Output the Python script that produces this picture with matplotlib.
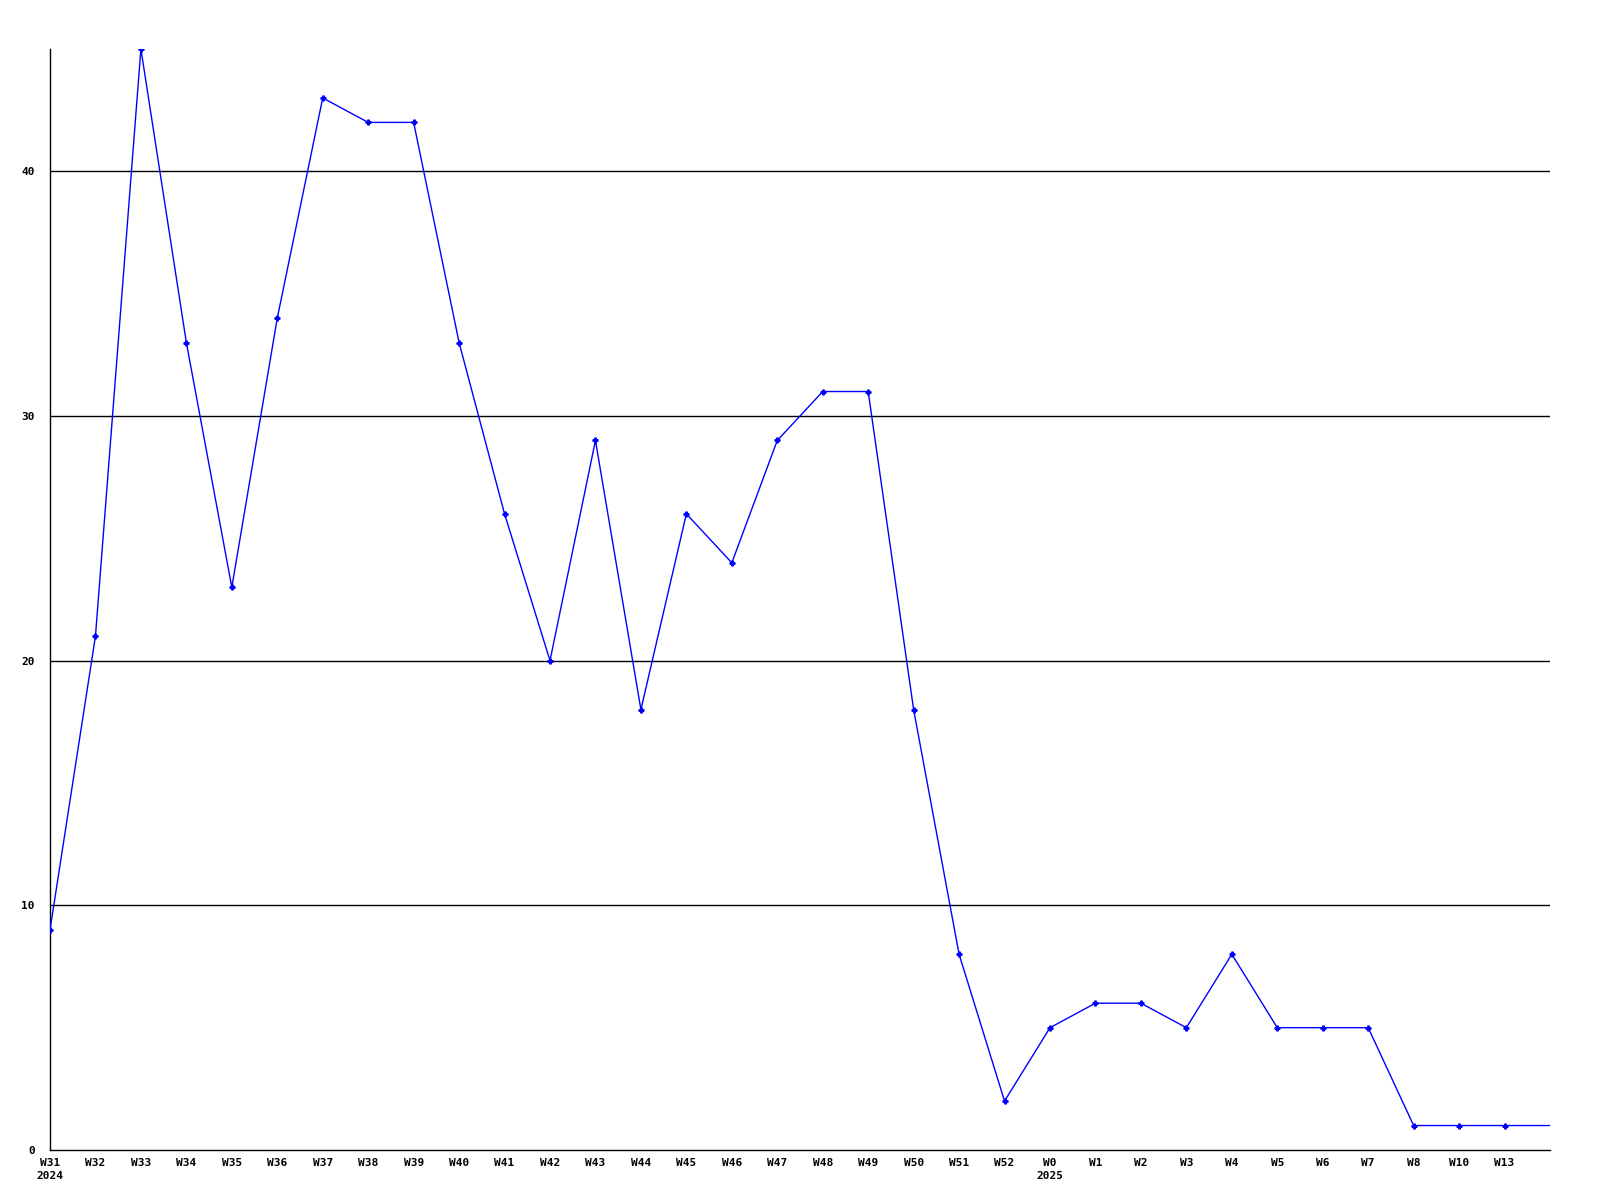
import matplotlib
matplotlib.use("Agg")
import matplotlib.pyplot as plt

weeks = ["W31\n2024", "W32", "W33", "W34", "W35", "W36", "W37", "W38", "W39", "W40",
         "W41", "W42", "W43", "W44", "W45", "W46", "W47", "W48", "W49", "W50",
         "W51", "W52", "W0\n2025", "W1", "W2", "W3", "W4", "W5", "W6", "W7",
         "W8", "W10", "W13", ""]
counts = [9, 21, 45, 33, 23, 34, 43, 42, 42, 33,
          26, 20, 29, 18, 26, 24, 29, 31, 31, 18,
          8, 2, 5, 6, 6, 5, 8, 5, 5, 5,
          1, 1, 1, 1]
y_ticks = [0, 10, 20, 30, 40]

fig = plt.figure(figsize=(16, 12), dpi=100)
ax = fig.add_axes([50/1600, 1 - 1150/1200, 1500/1600, 1101/1200])

x = list(range(len(counts)))
ax.plot(x, counts, color="#0000ff", linewidth=1.0, marker="P", markersize=3.5,
        markevery=list(range(len(counts) - 1)), zorder=3)

ax.set_xlim(0, len(counts) - 1)
ax.set_ylim(0, 45)
ax.set_yticks(y_ticks)
ax.set_yticklabels([str(v) for v in y_ticks])
ax.set_xticks(x[:-1])
ax.set_xticklabels(weeks[:-1], ha="center", va="top", linespacing=1.3)
for v in y_ticks[1:]:
    ax.axhline(v, color="black", linewidth=1.0, zorder=1)

for s in ["top", "right"]:
    ax.spines[s].set_visible(False)
for s in ["left", "bottom"]:
    ax.spines[s].set_linewidth(1.0)
    ax.spines[s].set_color("black")

ax.tick_params(axis="both", length=0, labelsize=8)
ax.tick_params(axis="y", pad=11)
ax.tick_params(axis="x", pad=6)
for lab in ax.get_xticklabels() + ax.get_yticklabels():
    lab.set_fontfamily("DejaVu Sans Mono")
    lab.set_fontweight("bold")

fig.savefig("out.png", dpi=100, facecolor="white")
